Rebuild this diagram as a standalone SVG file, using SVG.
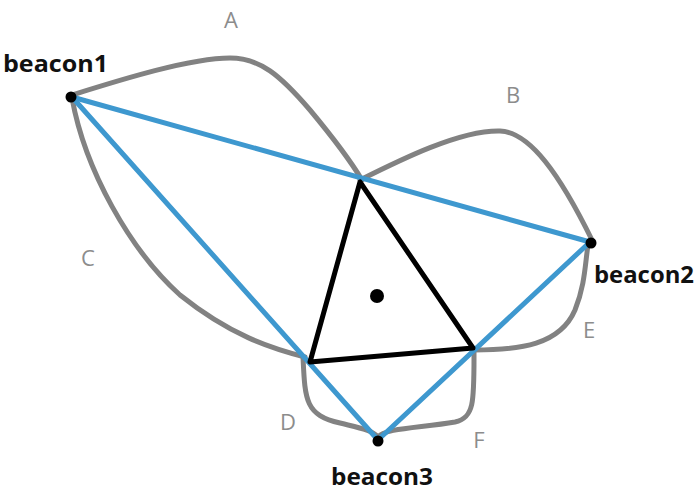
<svg xmlns="http://www.w3.org/2000/svg" width="694" height="492" viewBox="0 0 694 492">
<style>
.g{fill:none;stroke:#828282;stroke-width:5;stroke-linecap:round;stroke-linejoin:round}
.b{fill:none;stroke:#3e98cf;stroke-width:5;stroke-linecap:round}
.k{fill:none;stroke:#000;stroke-width:5;stroke-linejoin:round}
.lab{font-family:"Open Sans","Noto Sans",sans-serif;font-size:22px;fill:#8c8c8c}
.bt{font-family:"Open Sans","Noto Sans",sans-serif;font-size:23px;font-weight:bold;fill:#111}
</style>
<rect width="694" height="492" fill="#fff"/>
<g id="regions">
<path class="g" d="M72,95 C120,80 190,58 230,58 C260,58 280,75 310,110 C335,140 350,160 362,180"/>
<path class="g" d="M360,180 C400,160 460,130 500,131 C530,132 560,175 592,240"/>
<path class="g" d="M72,98 C85,170 130,250 180,295 C230,335 270,348 305,357"/>
<path class="g" d="M303,357 C305,400 305,415 340,423 C360,428 372,430 378,437"/>
<path class="g" d="M378,437 C385,428 420,428 455,422 C475,418 474,400 474,350"/>
<path class="g" d="M474,350 C520,350 560,345 575,310 C585,285 585,265 588,245"/>
</g>
<g id="connectors">
<line class="b" x1="72" y1="97" x2="590" y2="242"/>
<line class="b" x1="72" y1="97" x2="378" y2="440"/>
<line class="b" x1="590" y1="242" x2="378" y2="440"/>
</g>
<g id="triangle">
<polygon class="k" points="360,182 310,362 473,348"/>
<circle cx="377" cy="296" r="7" fill="#000"/>
</g>
<g id="beacon1"><circle cx="71" cy="97" r="5.5" fill="#000"/><text class="bt" x="3" y="72" textLength="105" lengthAdjust="spacingAndGlyphs">beacon1</text></g>
<g id="beacon2"><circle cx="591" cy="243" r="5.5" fill="#000"/><text class="bt" x="594" y="283" textLength="100" lengthAdjust="spacingAndGlyphs">beacon2</text></g>
<g id="beacon3"><circle cx="378" cy="441" r="5.5" fill="#000"/><text class="bt" x="331" y="485" textLength="102" lengthAdjust="spacingAndGlyphs">beacon3</text></g>
<g id="labels">
<text class="lab" x="231" y="28" text-anchor="middle">A</text>
<text class="lab" x="513" y="103" text-anchor="middle">B</text>
<text class="lab" x="88" y="266" text-anchor="middle">C</text>
<text class="lab" x="288" y="430" text-anchor="middle">D</text>
<text class="lab" x="589" y="338" text-anchor="middle">E</text>
<text class="lab" x="479" y="448" text-anchor="middle">F</text>
</g>
</svg>
